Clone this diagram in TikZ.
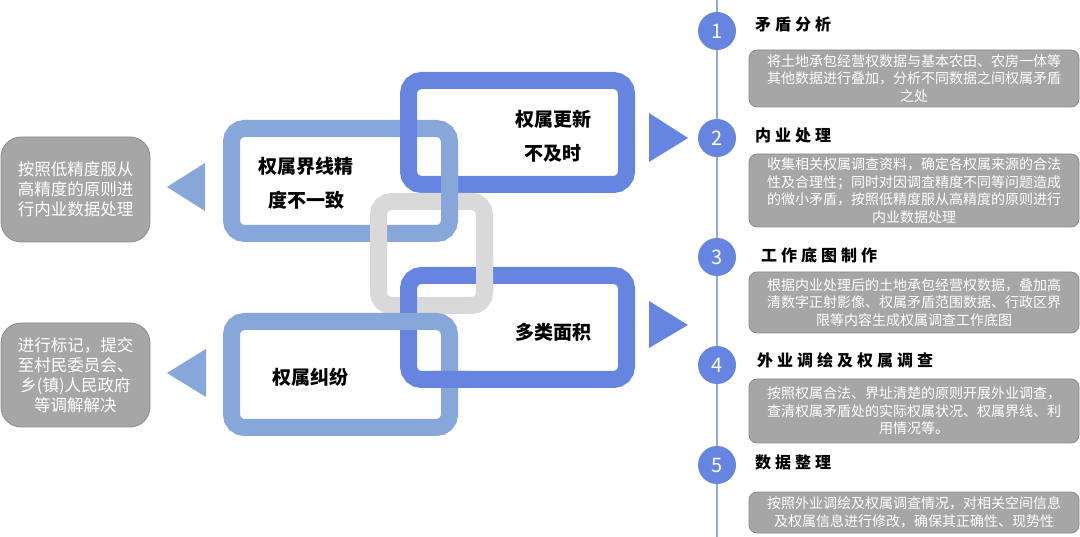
\documentclass[tikz,border=0pt]{standalone}
\usepackage{fontspec}
\setmainfont{Noto Sans CJK SC}
\definecolor{ringlight}{HTML}{87A6DA}
\definecolor{ringdark}{HTML}{6585E0}
\definecolor{ringgray}{HTML}{D9D9D9}
\definecolor{boxgray}{HTML}{A6A6A6}
\definecolor{boxedge}{HTML}{8C8C8C}
\definecolor{tline}{HTML}{8FAADC}
\newcommand{\tsp}{\kern4pt}
\begin{document}
\begin{tikzpicture}[x=1pt,y=-1pt,
  ring/.style={line width=17pt, rounded corners=13pt},
  chaintext/.style={font=\fontsize{19}{34}\selectfont\bfseries, align=center, inner sep=0pt},
  sidebox/.style={draw=boxedge, line width=0.8pt, fill=boxgray, rounded corners=20pt, text=white, align=center, inner sep=0pt, font=\fontsize{16.5}{19.8}\selectfont, minimum width=149pt},
  descbox/.style={draw=boxedge, line width=0.8pt, fill=boxgray, rounded corners=8pt, text=white, align=center, inner sep=0pt, font=\fontsize{14}{17.5}\selectfont, minimum width=330pt},
  numcirc/.style={circle, fill=ringdark, text=white, minimum size=38pt, inner sep=0pt, font=\fontsize{20}{20}\selectfont},
  titletext/.style={anchor=west, inner sep=0pt, font=\fontsize{16}{16}\selectfont\bfseries},
]
\useasboundingbox (0,0) rectangle (1080,537);

% ---- chain rings ----
\draw[ring, ringlight] (231.5,128.5) rectangle (449.5,233.5);
\draw[ring, ringdark]  (408.5,80.5) rectangle (626.5,184.5);
\draw[ring, ringgray]  (378.5,201.5) rectangle (484.5,305.5);
\draw[ring, ringdark]  (408.5,275.5) rectangle (626.5,379.5);
\draw[ring, ringlight] (231.5,321.5) rectangle (449.5,427.5);
% interlocking fixes
\begin{scope}
  \clip (435,168) rectangle (465,215);
  \draw[ring, ringlight] (231.5,128.5) rectangle (449.5,233.5);
\end{scope}
\begin{scope}
  \clip (470,258) rectangle (500,292);
  \draw[ring, ringgray] (378.5,201.5) rectangle (484.5,305.5);
\end{scope}
\begin{scope}
  \clip (433,365) rectangle (467,395);
  \draw[ring, ringdark] (408.5,275.5) rectangle (626.5,379.5);
\end{scope}

% ---- chain texts ----
\node[chaintext] (k1) at (306,183) {权属界线精\\度不一致};
\node[chaintext] (k2) at (553,136.5) {权属更新\\不及时};
\node[chaintext] (k3) at (553,332) {多类面积};
\node[chaintext] (k4) at (310,377) {权属纠纷};

% ---- triangles ----
\fill[ringlight] (167,187) -- (205,163) -- (205,211) -- cycle;
\fill[ringlight] (167,373) -- (206,349) -- (206,397) -- cycle;
\fill[ringdark] (688,138) -- (649,113) -- (649,162) -- cycle;
\fill[ringdark] (688,325) -- (649,301) -- (649,348) -- cycle;

% ---- left boxes ----
\node[sidebox, minimum height=105pt] (s1) at (75.5,189.5) {按照低精度服从\\高精度的原则进\\行内业数据处理};
\node[sidebox, minimum height=104pt] (s2) at (75.5,375) {进行标记，提交\\至村民委员会、\\乡(镇)人民政府\\等调解解决};

% ---- timeline ----
\coordinate (ltop) at (717,0);
\coordinate (lbot) at (717,537);
\draw[tline, line width=2pt] (ltop) -- (lbot);
\node[numcirc] (c1) at (717,31) {1};
\node[numcirc] (c2) at (717,138) {2};
\node[numcirc] (c3) at (717,257) {3};
\node[numcirc] (c4) at (717,365) {4};
\node[numcirc] (c5) at (717,465) {5};

\node[titletext] (t1) at (755,24) {矛\tsp 盾\tsp 分\tsp 析};
\node[titletext] (t2) at (755,135) {内\tsp 业\tsp 处\tsp 理};
\node[titletext] (t3) at (761,255) {工\tsp 作\tsp 底\tsp 图\tsp 制\tsp 作};
\node[titletext] (t4) at (757,360) {外\tsp 业\tsp 调\tsp 绘\tsp 及\tsp 权\tsp 属\tsp 调\tsp 查};
\node[titletext] (t5) at (755,462) {数\tsp 据\tsp 整\tsp 理};

\node[descbox, minimum height=57pt] (d1) at (914,78.5) {将土地承包经营权数据与基本农田、农房一体等\\其他数据进行叠加，分析不同数据之间权属矛盾\\之处};
\node[descbox, minimum height=73pt] (d2) at (914,190.5) {收集相关权属调查资料，确定各权属来源的合法\\性及合理性；同时对因调查精度不同等问题造成\\的微小矛盾，按照低精度服从高精度的原则进行\\内业数据处理};
\node[descbox, minimum height=61pt] (d3) at (914,302.5) {根据内业处理后的土地承包经营权数据，叠加高\\清数字正射影像、权属矛盾范围数据、行政区界\\限等内容生成权属调查工作底图};
\node[descbox, minimum height=64pt] (d4) at (914,411) {按照权属合法、界址清楚的原则开展外业调查，\\查清权属矛盾处的实际权属状况、权属界线、利\\用情况等。};
\node[descbox, minimum height=41pt] (d5) at (914,512.5) {按照外业调绘及权属调查情况，对相关空间信息\\及权属信息进行修改，确保其正确性、现势性};
\end{tikzpicture}
\end{document}
